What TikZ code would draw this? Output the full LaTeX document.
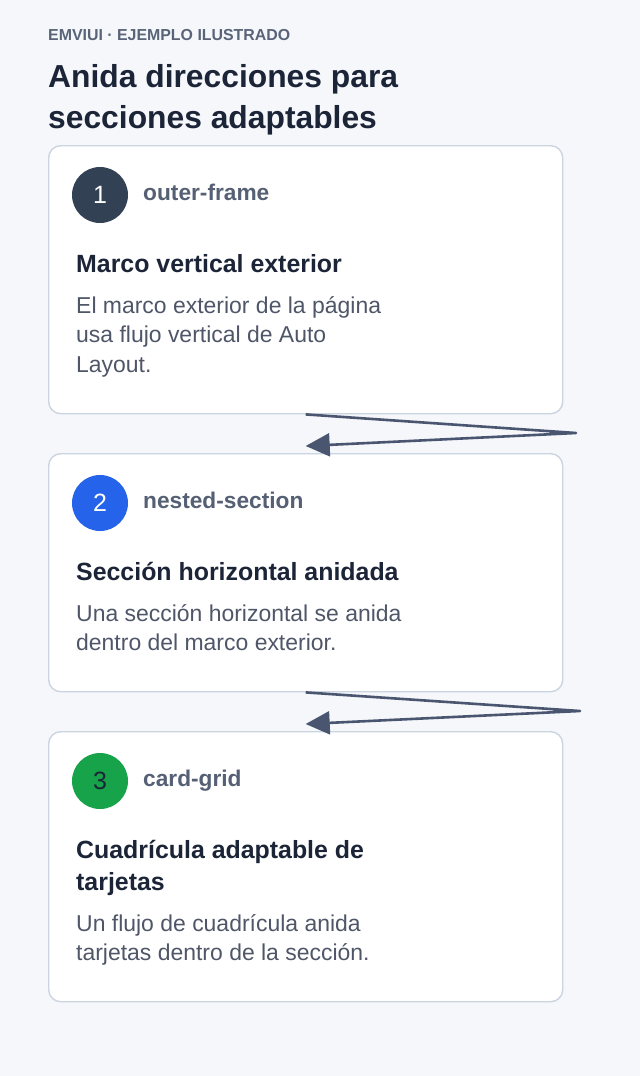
\documentclass[tikz,border=0pt]{standalone}
\usepackage{fontspec}
\setmainfont{Liberation Sans}
\usetikzlibrary{arrows.meta}

\definecolor{pagebg}{HTML}{F5F7FB}
\definecolor{cardline}{HTML}{CBD5E1}
\definecolor{kicker}{HTML}{5A6478}
\definecolor{heading}{HTML}{1C2437}
\definecolor{tagtext}{HTML}{556074}
\definecolor{bodytext}{HTML}{4E5668}
\definecolor{flowline}{HTML}{4A5670}
\definecolor{stepone}{HTML}{334155}
\definecolor{steptwo}{HTML}{2563EB}
\definecolor{stepthree}{HTML}{16A34A}

\begin{document}
\begin{tikzpicture}[x=1pt, y=-1pt,
    card/.style={draw=cardline, line width=1.4pt, fill=white, rounded corners=12pt,
        anchor=north west, minimum width=514pt, inner sep=0pt},
    badge/.style={circle, minimum size=56pt, inner sep=0pt, text=white,
        font=\fontsize{25}{25}\selectfont},
    txt/.style={anchor=base west, inner sep=0pt},
    tag/.style={txt, text=tagtext, font=\fontsize{22.7}{22.7}\selectfont\bfseries},
    head/.style={txt, text=heading, font=\fontsize{24.9}{24.9}\selectfont\bfseries},
    body/.style={txt, text=bodytext, font=\fontsize{22.95}{22.95}\selectfont},
    flow/.style={draw=flowline, line width=2.6pt, line join=round,
        -{Triangle[length=24pt, width=23pt]}}]
    \useasboundingbox (0,0) rectangle (640,1076);
    \fill[pagebg] (0,0) rectangle (640,1076);

    % header
    \node[txt, text=kicker, font=\fontsize{15.9}{15.9}\selectfont\bfseries] (kick) at (48,40) {EMVIUI · EJEMPLO ILUSTRADO};
    \node[txt, text=heading, font=\fontsize{31.8}{31.8}\selectfont\bfseries] (title1) at (48,87) {Anida direcciones para};
    \node[txt, text=heading, font=\fontsize{31.8}{31.8}\selectfont\bfseries] (title2) at (48,128) {secciones adaptables};

    % step 1
    \node[card, minimum height=268pt] (card1) at (48,145) {};
    \node[badge, fill=stepone] (num1) at (100,195) {1};
    \node[tag] (tag1) at (143,200) {outer-frame};
    \node[head] (head1) at (76,272) {Marco vertical exterior};
    \node[body] (body1a) at (76,313) {El marco exterior de la página};
    \node[body] (body1b) at (76,342.5) {usa flujo vertical de Auto};
    \node[body] (body1c) at (76,372) {Layout.};

    % step 2
    \node[card, minimum height=238pt] (card2) at (48,453) {};
    \node[badge, fill=steptwo] (num2) at (100,503) {2};
    \node[tag] (tag2) at (143,508) {nested-section};
    \node[head] (head2) at (76,580) {Sección horizontal anidada};
    \node[body] (body2a) at (76,621) {Una sección horizontal se anida};
    \node[body] (body2b) at (76,650.5) {dentro del marco exterior.};

    % step 3
    \node[card, minimum height=270pt] (card3) at (48,731) {};
    \node[badge, fill=stepthree, text=heading] (num3) at (100,781) {3};
    \node[tag] (tag3) at (143,786) {card-grid};
    \node[head] (head3a) at (76,858) {Cuadrícula adaptable de};
    \node[head] (head3b) at (76,890) {tarjetas};
    \node[body] (body3a) at (76,931) {Un flujo de cuadrícula anida};
    \node[body] (body3b) at (76,960.5) {tarjetas dentro de la sección.};

    % connectors
    \coordinate (turn1) at (576,433);
    \coordinate (in2) at ([yshift=7pt]card2.north);
    \coordinate (turn2) at (580,711);
    \coordinate (in3) at ([yshift=7pt]card3.north);
    \draw[flow] (card1.south) -- (turn1) -- (in2);
    \draw[flow] (card2.south) -- (turn2) -- (in3);
\end{tikzpicture}
\end{document}
